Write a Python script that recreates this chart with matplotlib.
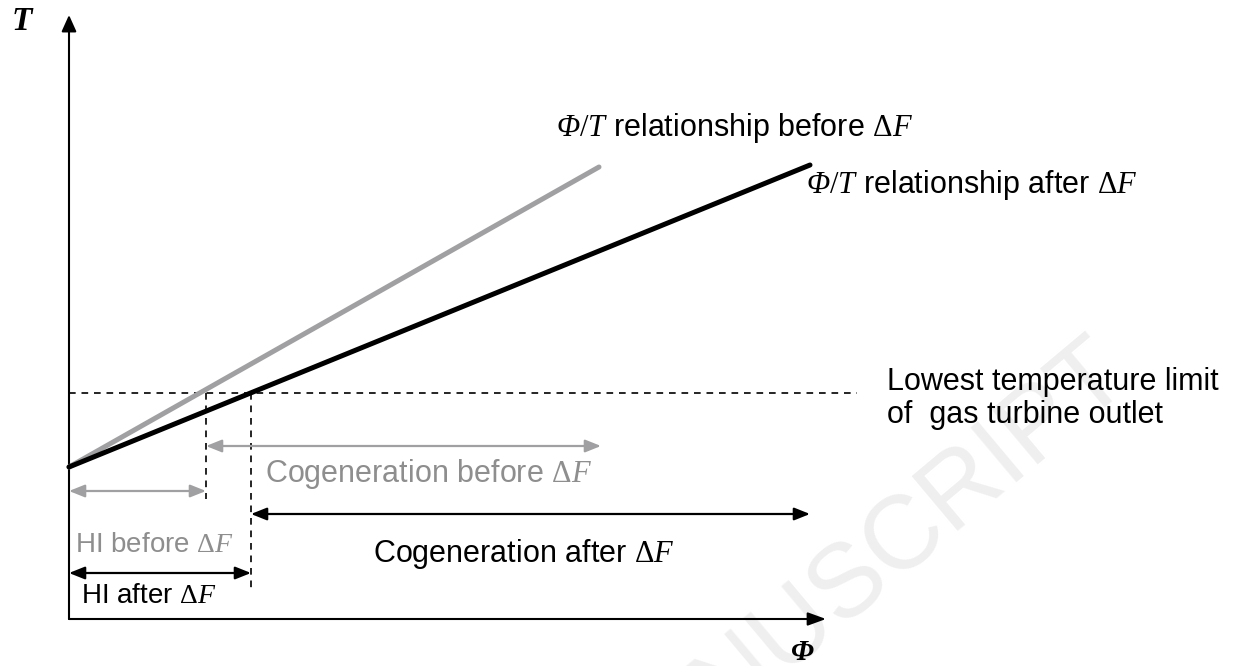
import matplotlib.pyplot as plt

plt.rcParams['mathtext.fontset'] = 'custom'
plt.rcParams['mathtext.rm'] = 'Liberation Serif'
plt.rcParams['mathtext.it'] = 'Liberation Serif:italic'
plt.rcParams['mathtext.sf'] = 'Liberation Serif:italic'

# schematic values (Phi along x, T along y), origin at the axes corner
phi_max = 757
T_max = 604
T_start = 152
before_end = (530, 452)     # Phi/T line before dF
after_end = (741, 454)      # Phi/T line after dF
T_limit = 226               # lowest outlet temperature
limit_end = 788
hi_before = 137
hi_after = 182
cogen_before_end = 532
cogen_after_end = 741
rows = {'hi_before': 128, 'cogen_before': 173, 'cogen_after': 105, 'hi_after': 46}
drop_before = 120
drop_after = 31

GRAY = '#a0a0a2'
GRAY_TXT = '#8e8e8e'

fig = plt.figure(figsize=(12.41, 6.66), dpi=100)
ax = fig.add_axes([0, 0, 1, 1])
ax.set_xlim(-69, 1172)
ax.set_ylim(-47, 619)
ax.axis('off')

# watermark
ax.text(1065, 235, 'ACCEPTED MANUSCRIPT', fontsize=75, color='#efefef',
        family='Liberation Sans', rotation=40, rotation_mode='anchor',
        ha='right', va='baseline', zorder=0)

# axes with arrows
ax.annotate('', xy=(0, T_max), xytext=(0, 0),
            arrowprops=dict(arrowstyle='-|>,head_length=1.0,head_width=0.45',
                            color='black', lw=1.5, shrinkA=0, shrinkB=0))
ax.annotate('', xy=(phi_max, 0), xytext=(0, 0),
            arrowprops=dict(arrowstyle='-|>,head_length=1.1,head_width=0.4',
                            color='black', lw=1.5, shrinkA=0, shrinkB=0))
ax.text(-57, 589, 'T', fontsize=24, family='Liberation Serif',
        weight='bold', style='italic', ha='left', va='baseline')
ax.text(733, -41, 'Φ', fontsize=21, family='Liberation Serif',
        weight='bold', style='italic', ha='center', va='baseline')

# Phi/T relationships
ax.plot([0, before_end[0]], [T_start, before_end[1]], color=GRAY, lw=3.6,
        solid_capstyle='round', zorder=3)
ax.plot([0, after_end[0]], [T_start, after_end[1]], color='black', lw=3.6,
        solid_capstyle='round', zorder=4)

# temperature limit and drop lines
ax.plot([0, limit_end], [T_limit, T_limit], color='black', lw=1.2,
        dashes=(4, 3.5))
ax.plot([hi_before, hi_before], [T_limit, drop_before], color='black', lw=1.2,
        dashes=(4, 3.5))
ax.plot([hi_after, hi_after], [T_limit, drop_after], color='black', lw=1.2,
        dashes=(4, 3.5))


def span(x0, x1, y, color):
    ax.annotate('', xy=(x1, y), xytext=(x0, y),
                arrowprops=dict(arrowstyle='<|-|>,head_length=0.95,head_width=0.38',
                                color=color, lw=1.6, shrinkA=0, shrinkB=0))


span(0, hi_before, rows['hi_before'], GRAY)
span(hi_before, cogen_before_end, rows['cogen_before'], GRAY)
span(hi_after, cogen_after_end, rows['cogen_after'], 'black')
span(0, hi_after, rows['hi_after'], 'black')

big = dict(fontsize=22, family='Liberation Sans', ha='left', va='baseline')
small = dict(fontsize=20, family='Liberation Sans', ha='left', va='baseline')

ax.text(487, 483, r'$\mathsf{Φ}/T$ relationship before $\Delta F$', **big)
ax.text(737, 426, r'$\mathsf{Φ}/T$ relationship after $\Delta F$', **big)
ax.text(818, 229, 'Lowest temperature limit', **big)
ax.text(818, 196, 'of  gas turbine outlet', **big)
ax.text(196, 137, r'Cogeneration before $\Delta F$', color=GRAY_TXT, **big)
ax.text(304, 57, r'Cogeneration after $\Delta F$', **big)
ax.text(6, 67, r'HI before $\Delta F$', color=GRAY_TXT, **small)
ax.text(12, 16, r'HI after $\Delta F$', **small)

fig.savefig('out.png', dpi=100)
